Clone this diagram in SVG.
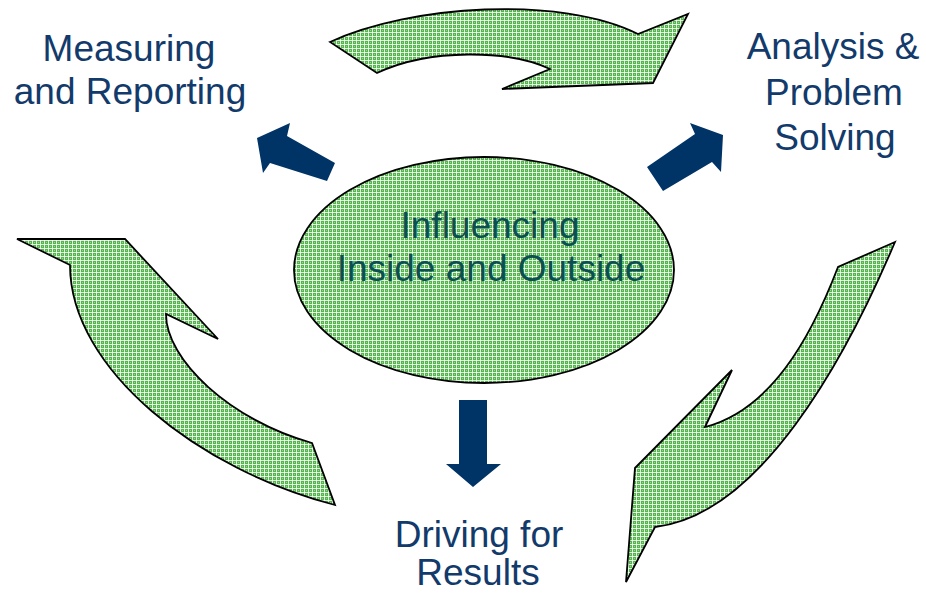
<svg xmlns="http://www.w3.org/2000/svg" width="926" height="593" viewBox="0 0 926 593">
  <defs>
    <!-- fine green cross-hatch fill -->
    <pattern id="hatch" width="4" height="4" patternUnits="userSpaceOnUse">
      <rect width="4" height="4" fill="#56b44f"/>
      <rect x="2" y="2" width="1" height="1" fill="#9ad893"/>
      <rect x="0" y="0" width="4" height="1" fill="#ffffff" fill-opacity="0.8"/>
      <rect x="0" y="0" width="1" height="4" fill="#ffffff" fill-opacity="0.8"/>
    </pattern>
    <style>
      .cycle { fill: url(#hatch); stroke: #000; stroke-width: 1.8; stroke-linejoin: miter; }
      .ptr { fill: #003366; }
      .lbl { font-family: "Liberation Sans", Arial, sans-serif; font-size: 37px; fill: #123a6b; text-anchor: middle; }
      .core { font-family: "Liberation Sans", Arial, sans-serif; font-size: 37px; fill: #0a4f52; text-anchor: middle; }
    </style>
  </defs>

  <rect width="926" height="593" fill="#ffffff"/>

  <!-- curved cycle arrows between the outer stages -->
  <g id="connectors">
    <path id="cycle-top" class="cycle" d="M 330,42 C 410,5 560,-5 638,34 L 688,14 L 653,83 L 502,89 L 550,69 C 510,50 430,48 377,73 Z"/>
    <path id="cycle-right" class="cycle" d="M 895,242 L 838,267 C 810,340 770,410 705,427 L 732,370 L 635,468 L 626,582 L 655,527 C 760,515 845,360 895,242 Z"/>
    <path id="cycle-left" class="cycle" d="M 17,239 L 125,239 L 218,339 L 166,314 C 166,360 230,420 312,443 L 335,505 C 200,470 70,370 70,265 Z"/>

    <!-- block arrows pointing out from the centre -->
    <polygon id="ptr-left" class="ptr" points="257,138 290,123 287,136 335,163 327,181 270,163 263,173"/>
    <polygon id="ptr-right" class="ptr" points="723,135 690,123 695,134 647,167 663,191 712,162 721,172"/>
    <polygon id="ptr-down" class="ptr" points="459,400 487,400 487,464 501,464 473,487 446,464 459,464"/>
  </g>

  <g id="node-center">
    <ellipse class="cycle" cx="484" cy="270" rx="190" ry="113"/>
    <text class="core" x="490" y="238">Influencing</text>
    <text class="core" x="491" y="281">Inside and Outside</text>
  </g>

  <g id="node-measuring">
    <text class="lbl" x="129" y="61">Measuring</text>
    <text class="lbl" x="130" y="104">and Reporting</text>
  </g>

  <g id="node-analysis">
    <text class="lbl" x="833" y="59">Analysis &amp;</text>
    <text class="lbl" x="834" y="105">Problem</text>
    <text class="lbl" x="835" y="150">Solving</text>
  </g>

  <g id="node-driving">
    <text class="lbl" x="479" y="547">Driving for</text>
    <text class="lbl" x="478" y="585">Results</text>
  </g>
</svg>
